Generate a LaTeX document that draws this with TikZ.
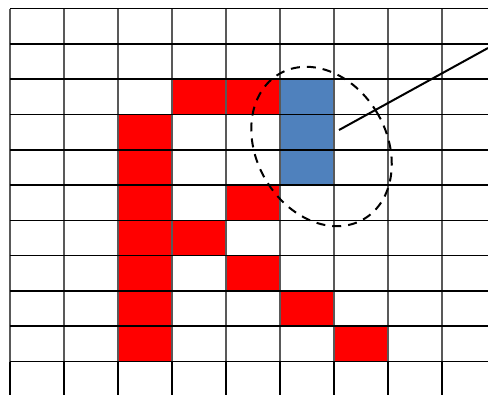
\documentclass[tikz,border=0pt]{standalone}
\usepackage{tikz}
\definecolor{cellblue}{RGB}{79,129,189}
\tikzset{
    redcell/.style={fill=red},
    bluecell/.style={fill=cellblue},
    gridline/.style={line width=1.6pt},
    colline/.style={gray!70!black, line width=1.1pt}
}

\begin{document}
\begin{tikzpicture}[x=54pt,y=-35.3pt]
    \useasboundingbox (-0.185,-0.241) rectangle (8.852,10.949);
    % red cells
    \fill[redcell] (3,2) rectangle (5,3);
    \fill[redcell] (2,3) rectangle (3,10);
    \fill[redcell] (4,5) rectangle (5,6);
    \fill[redcell] (3,6) rectangle (4,7);
    \fill[redcell] (4,7) rectangle (5,8);
    \fill[redcell] (5,8) rectangle (6,9);
    \fill[redcell] (6,9) rectangle (7,10);
    % blue cells
    \fill[bluecell] (5,2) rectangle (6,5);
    % grid
    \foreach \i in {0,...,8} {
        \draw[colline] (\i,0) -- (\i,10);
        \draw[gridline] (\i,10) -- (\i,10.949);
    }
    \foreach \j in {0,...,10}
        \draw[gridline] (0,\j) -- (8.852,\j);
    % marked region
    \draw[line width=2pt, dash pattern=on 9pt off 7pt, shift={(5.769,3.909)}, rotate=30]
        (0,0) ellipse (65pt and 84pt);
    \coordinate (tip) at (6.093,3.442);
    \coordinate (out) at (8.852,1.119);
    \draw[line width=2pt] (tip) -- (out);
\end{tikzpicture}
\end{document}
